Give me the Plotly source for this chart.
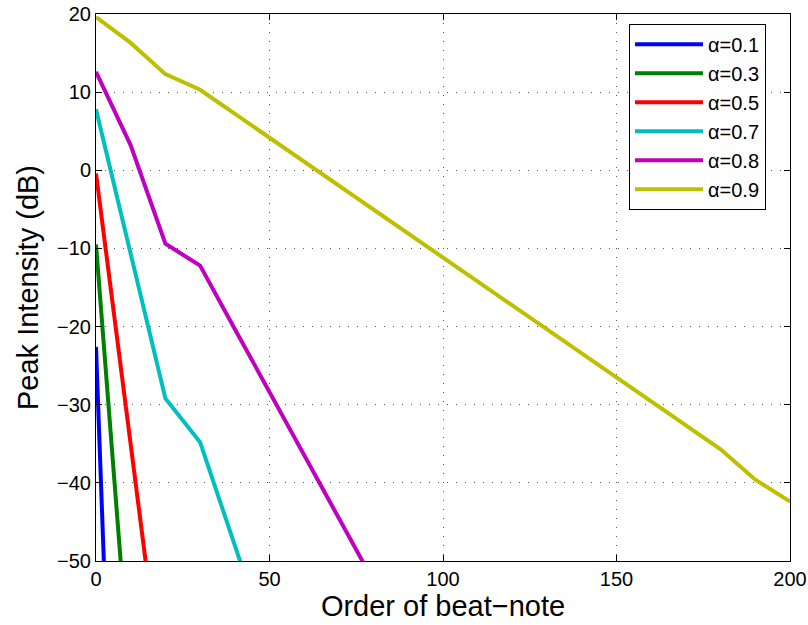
import plotly.graph_objects as go

# Peak intensity of successive beat-notes for several values of alpha
alpha_labels = ["α=0.1", "α=0.3", "α=0.5", "α=0.7", "α=0.8", "α=0.9"]
colors = ["#0000FF", "#008000", "#FF0000", "#00BFBF", "#BF00BF", "#BFBF00"]

order_a01 = [0, 10]
peak_a01 = [-22.6, -144.0]

order_a03 = [0, 10]
peak_a03 = [-9.5, -66.5]

order_a05 = [0, 10, 20]
peak_a05 = [-0.4, -35.1, -69.8]

order_a07 = [0, 10, 20, 30, 40, 50]
peak_a07 = [7.8, -10.7, -29.2, -34.8, -48.0, -61.2]

order_a08 = [0, 10, 20, 30, 40, 50, 60, 70, 80]
peak_a08 = [12.6, 3.2, -9.4, -12.2, -20.3, -28.4, -36.4, -44.5, -52.6]

order_a09 = [0, 10, 20, 30, 180, 190, 200]
peak_a09 = [19.6, 16.3, 12.3, 10.3, -35.7, -39.6, -42.4]

orders = [order_a01, order_a03, order_a05, order_a07, order_a08, order_a09]
peaks = [peak_a01, peak_a03, peak_a05, peak_a07, peak_a08, peak_a09]

x_ticks = [0, 50, 100, 150, 200]
y_ticks = [20, 10, 0, -10, -20, -30, -40, -50]

fig = go.Figure()
for i, (xs, ys, name, col) in enumerate(zip(orders, peaks, alpha_labels, colors)):
    fig.add_trace(go.Scatter(
        x=xs, y=ys, mode="lines", name=name, legendgroup=f"g{i}",
        line=dict(color=col, width=4),
    ))

font_family = "Liberation Sans, Arial, Helvetica, sans-serif"
axis_common = dict(
    showline=True, linecolor="black", linewidth=1, mirror="ticks",
    ticks="inside", ticklen=6, tickcolor="black",
    showgrid=True, gridcolor="#555555", gridwidth=1, griddash="1px,8px",
    zeroline=False, automargin=False,
    tickfont=dict(family=font_family, size=20, color="black"),
)

fig.update_layout(
    width=808, height=625,
    margin=dict(l=96, r=18, t=14, b=64),
    paper_bgcolor="white", plot_bgcolor="white",
    font=dict(family=font_family, color="black"),
    xaxis=dict(
        range=[0, 200], tickvals=x_ticks,
        title=dict(text="Order of beat−note", font=dict(size=29), standoff=6),
        **axis_common,
    ),
    yaxis=dict(
        range=[-50, 20], tickvals=y_ticks,
        title=dict(text="Peak Intensity (dB)", font=dict(size=29), standoff=9),
        **axis_common,
    ),
    legend=dict(
        x=0.768, y=0.982, xanchor="left", yanchor="top",
        bgcolor="white", bordercolor="black", borderwidth=1,
        font=dict(size=20, family=font_family),
        traceorder="grouped", tracegroupgap=0,
        itemwidth=68, entrywidth=68,
    ),
    showlegend=True,
)

fig.write_html("out.html")
